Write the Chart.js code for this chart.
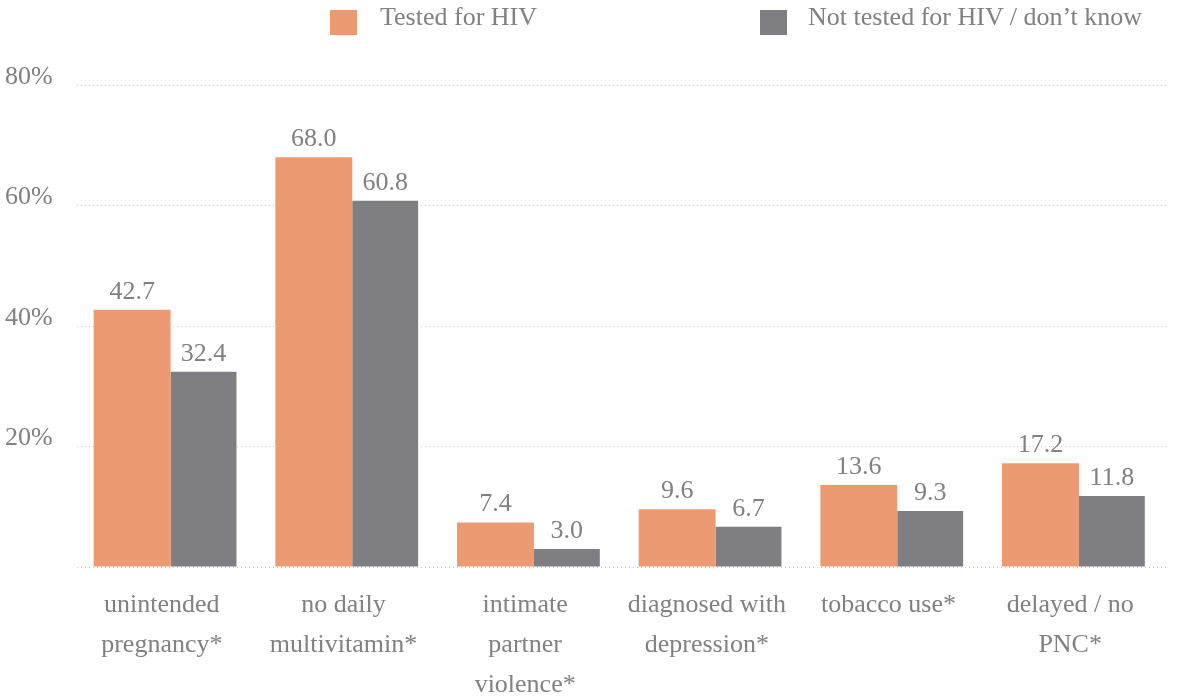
<!DOCTYPE html>
<html>
<head>
<meta charset="utf-8">
<script src="https://cdn.jsdelivr.net/npm/chart.js@4.4.0/dist/chart.umd.min.js"></script>
<style>
body { margin: 0; background: #fff; }
#wrap { position: relative; width: 1183px; height: 698px; }
.lg-txt { position: absolute; top: 4px; font: 26px "Liberation Serif", serif; color: #808085; line-height: 26px; white-space: nowrap; }
.lg-box { position: absolute; top: 10px; width: 27px; height: 25px; }
</style>
</head>
<body>
<div id="wrap">
  <canvas id="chart" width="1183" height="698"></canvas>
</div>
<script>
// data
const categories = [
    ['unintended', 'pregnancy*'],
    ['no daily', 'multivitamin*'],
    ['intimate', 'partner', 'violence*'],
    ['diagnosed with', 'depression*'],
    ['tobacco use*'],
    ['delayed / no', 'PNC*']
];
const seriesNames = ['Tested for HIV', 'Not tested for HIV / don\u2019t know'];
const tested = [42.7, 68.0, 7.4, 9.6, 13.6, 17.2];
const notTested = [32.4, 60.8, 3.0, 6.7, 9.3, 11.8];
const yTicks = [0, 20, 40, 60, 80];

const colors = ['#EC9A72', '#7F7F83'];
const textColor = '#808085';
const serif = '"Liberation Serif", "Times New Roman", serif';

// legend (html, over the canvas)
const legendPos = [[330, 380], [760, 808]];
const wrap = document.getElementById('wrap');
seriesNames.forEach(function (name, i) {
    const box = document.createElement('div');
    box.className = 'lg-box';
    box.style.left = legendPos[i][0] + 'px';
    box.style.background = colors[i];
    wrap.appendChild(box);
    const txt = document.createElement('div');
    txt.className = 'lg-txt';
    txt.style.left = legendPos[i][1] + 'px';
    txt.textContent = name;
    wrap.appendChild(txt);
});

// value labels on top of bars
const valueLabels = {
    id: 'valueLabels',
    afterDatasetsDraw: function (chart) {
        const ctx = chart.ctx;
        ctx.save();
        ctx.font = '26px ' + serif;
        ctx.fillStyle = textColor;
        ctx.textAlign = 'center';
        ctx.textBaseline = 'alphabetic';
        chart.data.datasets.forEach(function (ds, di) {
            chart.getDatasetMeta(di).data.forEach(function (bar, i) {
                ctx.fillText(ds.data[i].toFixed(1), bar.x, bar.y - 11);
            });
        });
        ctx.restore();
    }
};

new Chart(document.getElementById('chart').getContext('2d'), {
    type: 'bar',
    data: {
        labels: categories,
        datasets: [
            {
                label: seriesNames[0],
                data: tested,
                backgroundColor: colors[0],
                barPercentage: 1.077,
                categoryPercentage: 0.786
            },
            {
                label: seriesNames[1],
                data: notTested,
                backgroundColor: colors[1],
                barPercentage: 0.923,
                categoryPercentage: 0.786
            }
        ]
    },
    options: {
        responsive: false,
        animation: false,
        layout: { padding: { left: 5, top: 85, right: 16, bottom: 0 } },
        plugins: {
            legend: { display: false },
            tooltip: { enabled: false }
        },
        scales: {
            x: {
                grid: { display: false, drawTicks: false },
                border: { display: false },
                ticks: {
                    color: textColor,
                    font: { family: serif, size: 26, lineHeight: 1.54 },
                    padding: 18,
                    labelOffset: -6,
                    maxRotation: 0,
                    autoSkip: false
                },
                afterFit: function (scale) { scale.height = 131; }
            },
            y: {
                min: 0,
                max: 80,
                afterBuildTicks: function (scale) {
                    scale.ticks = yTicks.map(function (v) { return { value: v }; });
                },
                grid: { color: '#c4c4c4', lineWidth: 1, drawTicks: false },
                border: { display: false, dash: [1, 3] },
                ticks: {
                    color: textColor,
                    font: { family: serif, size: 26 },
                    crossAlign: 'far',
                    labelOffset: -8,
                    callback: function (v) { return v === 0 ? '' : v + '%'; }
                },
                afterFit: function (scale) { scale.width = 72; }
            }
        }
    },
    plugins: [valueLabels]
});
</script>
</body>
</html>
